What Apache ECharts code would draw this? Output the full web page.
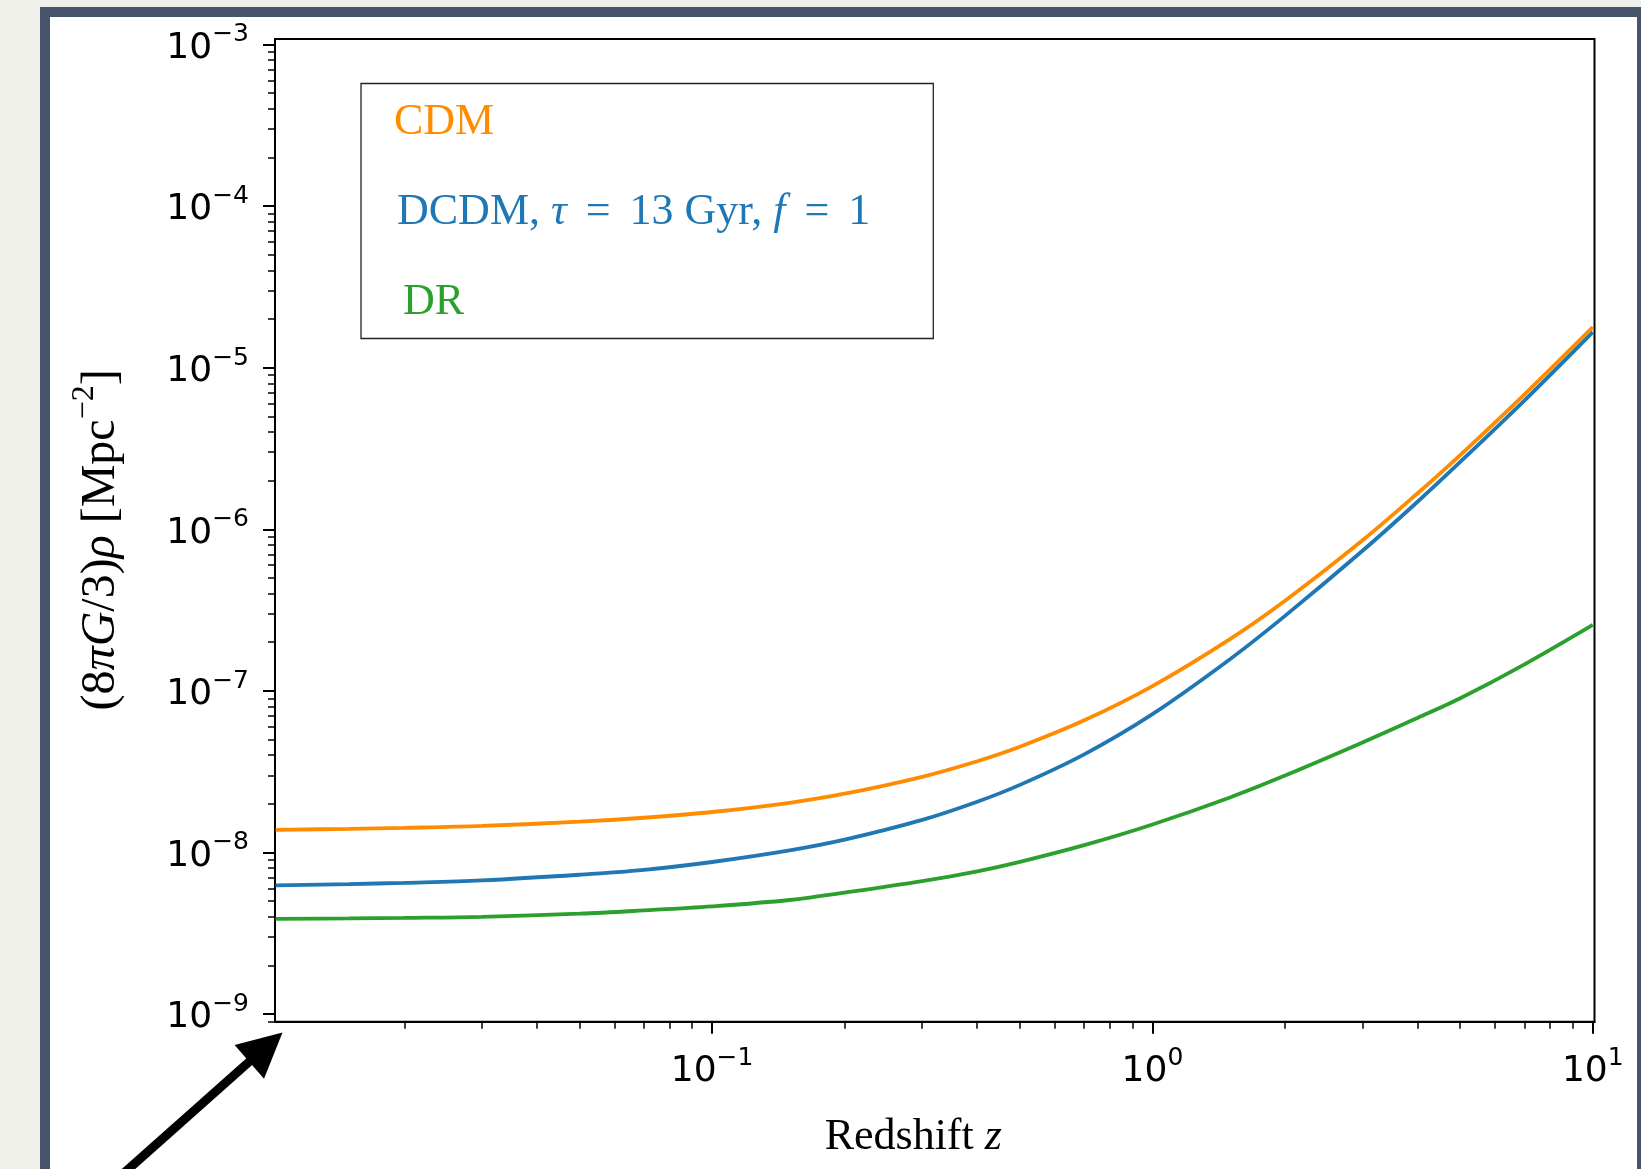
<!DOCTYPE html>
<html>
<head>
<meta charset="utf-8">
<script src="https://cdn.jsdelivr.net/npm/echarts@6/dist/echarts.min.js"></script>
<style>
html, body { margin: 0; padding: 0; width: 1641px; height: 1169px; overflow: hidden; background: #f0f0eb; }
#frame { position: absolute; left: 40px; top: 7px; width: 1607px; height: 1220px; box-sizing: border-box; border: 10px solid #455468; background: #ffffff; }
#chart { position: absolute; left: 0; top: 0; width: 1641px; height: 1169px; }
</style>
</head>
<body>
<div id="frame"></div>
<div id="chart"></div>
<script>
// Redshift samples and energy densities (8πG/3)ρ in Mpc^-2
const redshift = [0.0102, 0.015, 0.02, 0.03, 0.05, 0.07, 0.1, 0.15, 0.2, 0.3, 0.4, 0.5, 0.7, 1, 1.5, 2, 3, 4, 5, 7, 10];
const rhoCDM  = [1.38e-8, 1.40e-8, 1.42e-8, 1.46e-8, 1.55e-8, 1.64e-8, 1.78e-8, 2.03e-8, 2.31e-8, 2.94e-8, 3.67e-8, 4.51e-8, 6.57e-8, 1.07e-7, 2.09e-7, 3.61e-7, 8.55e-7, 1.67e-6, 2.88e-6, 6.84e-6, 1.78e-5];
const rhoDCDM = [6.25e-9, 6.37e-9, 6.49e-9, 6.72e-9, 7.28e-9, 7.80e-9, 8.73e-9, 1.03e-8, 1.20e-8, 1.59e-8, 2.06e-8, 2.62e-8, 4.05e-8, 7.18e-8, 1.57e-7, 2.91e-7, 7.36e-7, 1.48e-6, 2.61e-6, 6.28e-6, 1.66e-5];
const rhoDR   = [3.88e-9, 3.91e-9, 3.94e-9, 4.00e-9, 4.18e-9, 4.38e-9, 4.64e-9, 5.08e-9, 5.64e-9, 6.64e-9, 7.64e-9, 8.75e-9, 1.11e-8, 1.49e-8, 2.19e-8, 2.99e-8, 4.79e-8, 6.8e-8, 9.0e-8, 1.46e-7, 2.56e-7];

const seriesNames = ['CDM', 'DCDM, τ = 13 Gyr, f = 1', 'DR'];
const seriesColors = ['#ff8c00', '#1f77b4', '#2ca02c'];

// Axis ranges and labelled decades
const X_MIN = 0.01017, X_MAX = 10.09;
const Y_MIN = 8.97e-10, Y_MAX = 1.081e-3;
const xMajorTicks = [0.1, 1, 10];
const yMajorTicks = [1e-9, 1e-8, 1e-7, 1e-6, 1e-5, 1e-4, 1e-3];

function minorTicks(eLo, eHi) {
  const out = [];
  for (let e = eLo; e <= eHi; e++) {
    for (let k = 2; k <= 9; k++) out.push(Number((k * Math.pow(10, e)).toPrecision(3)));
  }
  return out;
}
const xMinorTicks = minorTicks(-2, 0);
const yMinorTicks = minorTicks(-10, -4);

function pairs(xs, ys) { return xs.map((x, i) => [x, ys[i]]); }

function powLabel(v) {
  const e = Math.round(Math.log10(v));
  return '{b|10}{s|' + (e < 0 ? '\u2212' + (-e) : String(e)) + '}';
}

const tickRich = {
  b: { fontFamily: 'DejaVu Sans', fontSize: 36, color: '#000', lineHeight: 44, verticalAlign: 'bottom' },
  s: { fontFamily: 'DejaVu Sans', fontSize: 25, color: '#000', lineHeight: 36, verticalAlign: 'top' }
};

const serif = 'Liberation Serif';
const legendRich = {
  o:  { fontFamily: serif, fontSize: 44, color: seriesColors[0], lineHeight: 44 },
  bl: { fontFamily: serif, fontSize: 44, color: seriesColors[1], lineHeight: 44 },
  bp: { fontFamily: serif, fontSize: 44, color: seriesColors[1], lineHeight: 44, padding: [0, 0, 0, 3] },
  bi: { fontFamily: serif, fontSize: 44, color: seriesColors[1], lineHeight: 44, fontStyle: 'italic' },
  eq: { fontFamily: serif, fontSize: 44, color: seriesColors[1], lineHeight: 44, padding: [0, 19, 0, 19] },
  g:  { fontFamily: serif, fontSize: 44, color: seriesColors[2], lineHeight: 44, padding: [0, 0, 0, 9] }
};
const legendText = {
  'CDM': '{o|CDM}',
  'DCDM, τ = 13 Gyr, f = 1': '{bp|DCDM, }{bi|τ}{eq|=}{bl|13 Gyr, }{bi|f}{eq|=}{bl|1}',
  'DR': '{g|DR}'
};

const hidden = { show: false };

const chart = echarts.init(document.getElementById('chart'), null, { renderer: 'canvas' });
chart.setOption({
  animation: false,
  backgroundColor: 'transparent',
  grid: {
    left: 275, right: 46.5, top: 39, bottom: 147.3,
    show: true, borderColor: '#000', borderWidth: 2, backgroundColor: 'transparent',
    containLabel: false, outerBoundsMode: 'none'
  },
  legend: {
    orient: 'vertical', left: 361, top: 83.5,
    padding: [16.5, 63, 14.5, 27], itemGap: 46,
    itemWidth: 0, itemHeight: 0, selectedMode: false,
    borderColor: '#222', borderWidth: 1.3, backgroundColor: '#fff',
    data: seriesNames,
    formatter: name => legendText[name],
    textStyle: { fontFamily: serif, fontSize: 44, rich: legendRich },
    itemStyle: { opacity: 0 }, lineStyle: { opacity: 0 }
  },
  xAxis: [
    {
      type: 'log', logBase: 10, min: X_MIN, max: X_MAX, position: 'bottom',
      axisLine: { show: true, lineStyle: { color: '#000', width: 2 } },
      axisTick: { show: true, customValues: xMajorTicks, length: 12, lineStyle: { color: '#000', width: 2 } },
      axisLabel: { show: true, customValues: xMajorTicks, formatter: powLabel, margin: 24, rich: tickRich },
      splitLine: hidden, minorTick: hidden, minorSplitLine: hidden,
      name: '{n|Redshift }{i|z}', nameLocation: 'middle', nameGap: 94,
      nameTextStyle: {
        fontFamily: serif, fontSize: 44, color: '#000', padding: [0, 43, 0, 0],
        rich: { n: { fontFamily: serif, fontSize: 44, color: '#000' }, i: { fontFamily: serif, fontSize: 44, color: '#000', fontStyle: 'italic' } }
      }
    },
    {
      type: 'log', logBase: 10, min: X_MIN, max: X_MAX, position: 'bottom',
      axisLine: hidden, axisLabel: hidden, splitLine: hidden,
      axisTick: { show: true, customValues: xMinorTicks, length: 7, lineStyle: { color: '#000', width: 1.5 } }
    }
  ],
  yAxis: [
    {
      type: 'log', logBase: 10, min: Y_MIN, max: Y_MAX, position: 'left',
      axisLine: { show: true, lineStyle: { color: '#000', width: 2 } },
      axisTick: { show: true, customValues: yMajorTicks, length: 12, lineStyle: { color: '#000', width: 2 } },
      axisLabel: { show: true, customValues: yMajorTicks, formatter: powLabel, margin: 26, rich: tickRich },
      splitLine: hidden, minorTick: hidden, minorSplitLine: hidden,
      name: '{n|(8}{i|πG}{n|/3)}{i|ρ}{n| [Mpc}{sup|\u22122}{n|]}', nameLocation: 'middle', nameGap: 150,
      nameTextStyle: {
        fontFamily: serif, fontSize: 48, color: '#000', padding: [0, 19, 0, 0],
        rich: {
          n: { fontFamily: serif, fontSize: 48, color: '#000', lineHeight: 56, verticalAlign: 'bottom' },
          i: { fontFamily: serif, fontSize: 48, color: '#000', lineHeight: 56, verticalAlign: 'bottom', fontStyle: 'italic' },
          sup: { fontFamily: serif, fontSize: 32, color: '#000', lineHeight: 36, verticalAlign: 'top' }
        }
      }
    },
    {
      type: 'log', logBase: 10, min: Y_MIN, max: Y_MAX, position: 'left',
      axisLine: hidden, axisLabel: hidden, splitLine: hidden,
      axisTick: { show: true, customValues: yMinorTicks, length: 7, lineStyle: { color: '#000', width: 1.5 } }
    }
  ],
  series: [
    { name: seriesNames[0], type: 'line', z: 4, data: pairs(redshift, rhoCDM) },
    { name: seriesNames[1], type: 'line', z: 3, data: pairs(redshift, rhoDCDM) },
    { name: seriesNames[2], type: 'line', z: 3, data: pairs(redshift, rhoDR) }
  ].map((s, i) => Object.assign(s, {
    xAxisIndex: 0, yAxisIndex: 0, showSymbol: false, symbol: 'none',
    smooth: 0.35,
    color: seriesColors[i],
    lineStyle: { color: seriesColors[i], width: 3.8 },
    emphasis: { disabled: true }
  })),
  graphic: [
    { type: 'line', z: 100, shape: { x1: 250, y1: 1061, x2: 106, y2: 1189 }, style: { stroke: '#000', lineWidth: 9 } },
    { type: 'polygon', z: 100, shape: { points: [[282.5, 1032.5], [234.6, 1045], [264, 1078.7]] }, style: { fill: '#000' } }
  ]
});
</script>
</body>
</html>
